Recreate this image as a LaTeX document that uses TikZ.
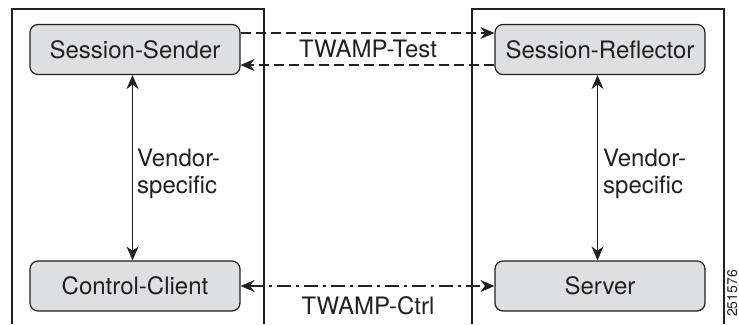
\documentclass[tikz,border=0pt]{standalone}
\usepackage{fontspec}
\setmainfont{TeX Gyre Heros}
\usetikzlibrary{arrows.meta}
\definecolor{ink}{HTML}{231F20}
\definecolor{boxfill}{HTML}{DEDFE0}
\tikzset{
  panel/.style={draw=ink, line width=1.2pt},
  procbox/.style={draw=ink, fill=boxfill, line width=1.2pt, rounded corners=8pt, minimum width=210pt, minimum height=50pt, inner sep=0pt, font=\fontsize{24}{28}\selectfont, text=ink},
  lbl/.style={font=\fontsize{24}{27}\selectfont, text=ink, inner sep=0pt},
  tip/.style={-{Stealth[length=14pt,width=12pt]}},
  bitip/.style={{Stealth[length=14pt,width=12pt]}-{Stealth[length=14pt,width=12pt]}},
  link/.style={draw=ink, line width=1.2pt},
  testline/.style={link, dash pattern=on 10pt off 5pt},
  ctrlline/.style={link, dash pattern=on 14pt off 5pt on 3pt off 5pt},
}
\begin{document}
\begin{tikzpicture}[x=1pt,y=-1pt]
\useasboundingbox (0,0) rectangle (739,324);
% panels
\draw[panel] (12,324) -- (12,9) -- (264,9) -- (264,324);
\draw[panel] (472,324) -- (472,9) -- (724,9) -- (724,324);
% boxes
\node[procbox] (ss) at (135,49.5) {Session-Sender};
\node[procbox] (sr) at (600,49.5) {Session-Reflector};
\node[procbox] (cc) at (135,286) {Control-Client};
\node[procbox] (sv) at (600,286) {Server};
% helper coordinates
\coordinate (ya) at (0,33);
\coordinate (yb) at (0,65);
\coordinate (xl) at (132.5,0);
\coordinate (xr) at (597.5,0);
\draw[testline, tip] (ss.east |- ya) -- (sr.west |- ya);
\draw[testline, tip] (sr.west |- yb) -- (ss.east |- yb);
\node[lbl] (tt) at (368,49) {TWAMP-Test};
% ctrl
\draw[ctrlline, bitip] (cc.east) -- (sv.west);
\node[lbl] (tc) at (368,306) {TWAMP-Ctrl};
% vertical
\draw[link, bitip] (xl |- ss.south) -- (xl |- cc.north);
\draw[link, bitip] (xr |- sr.south) -- (xr |- sv.north);
\node[lbl, align=left, anchor=west] (v1) at (137,173.5) {Vendor-\\specific};
\node[lbl, align=left, anchor=west] (v2) at (603,173.5) {Vendor-\\specific};
\node[font=\fontsize{14}{16}\selectfont, text=ink, rotate=90, inner sep=1pt, anchor=north west] (id) at (726,318) {251576};
\end{tikzpicture}
\end{document}
